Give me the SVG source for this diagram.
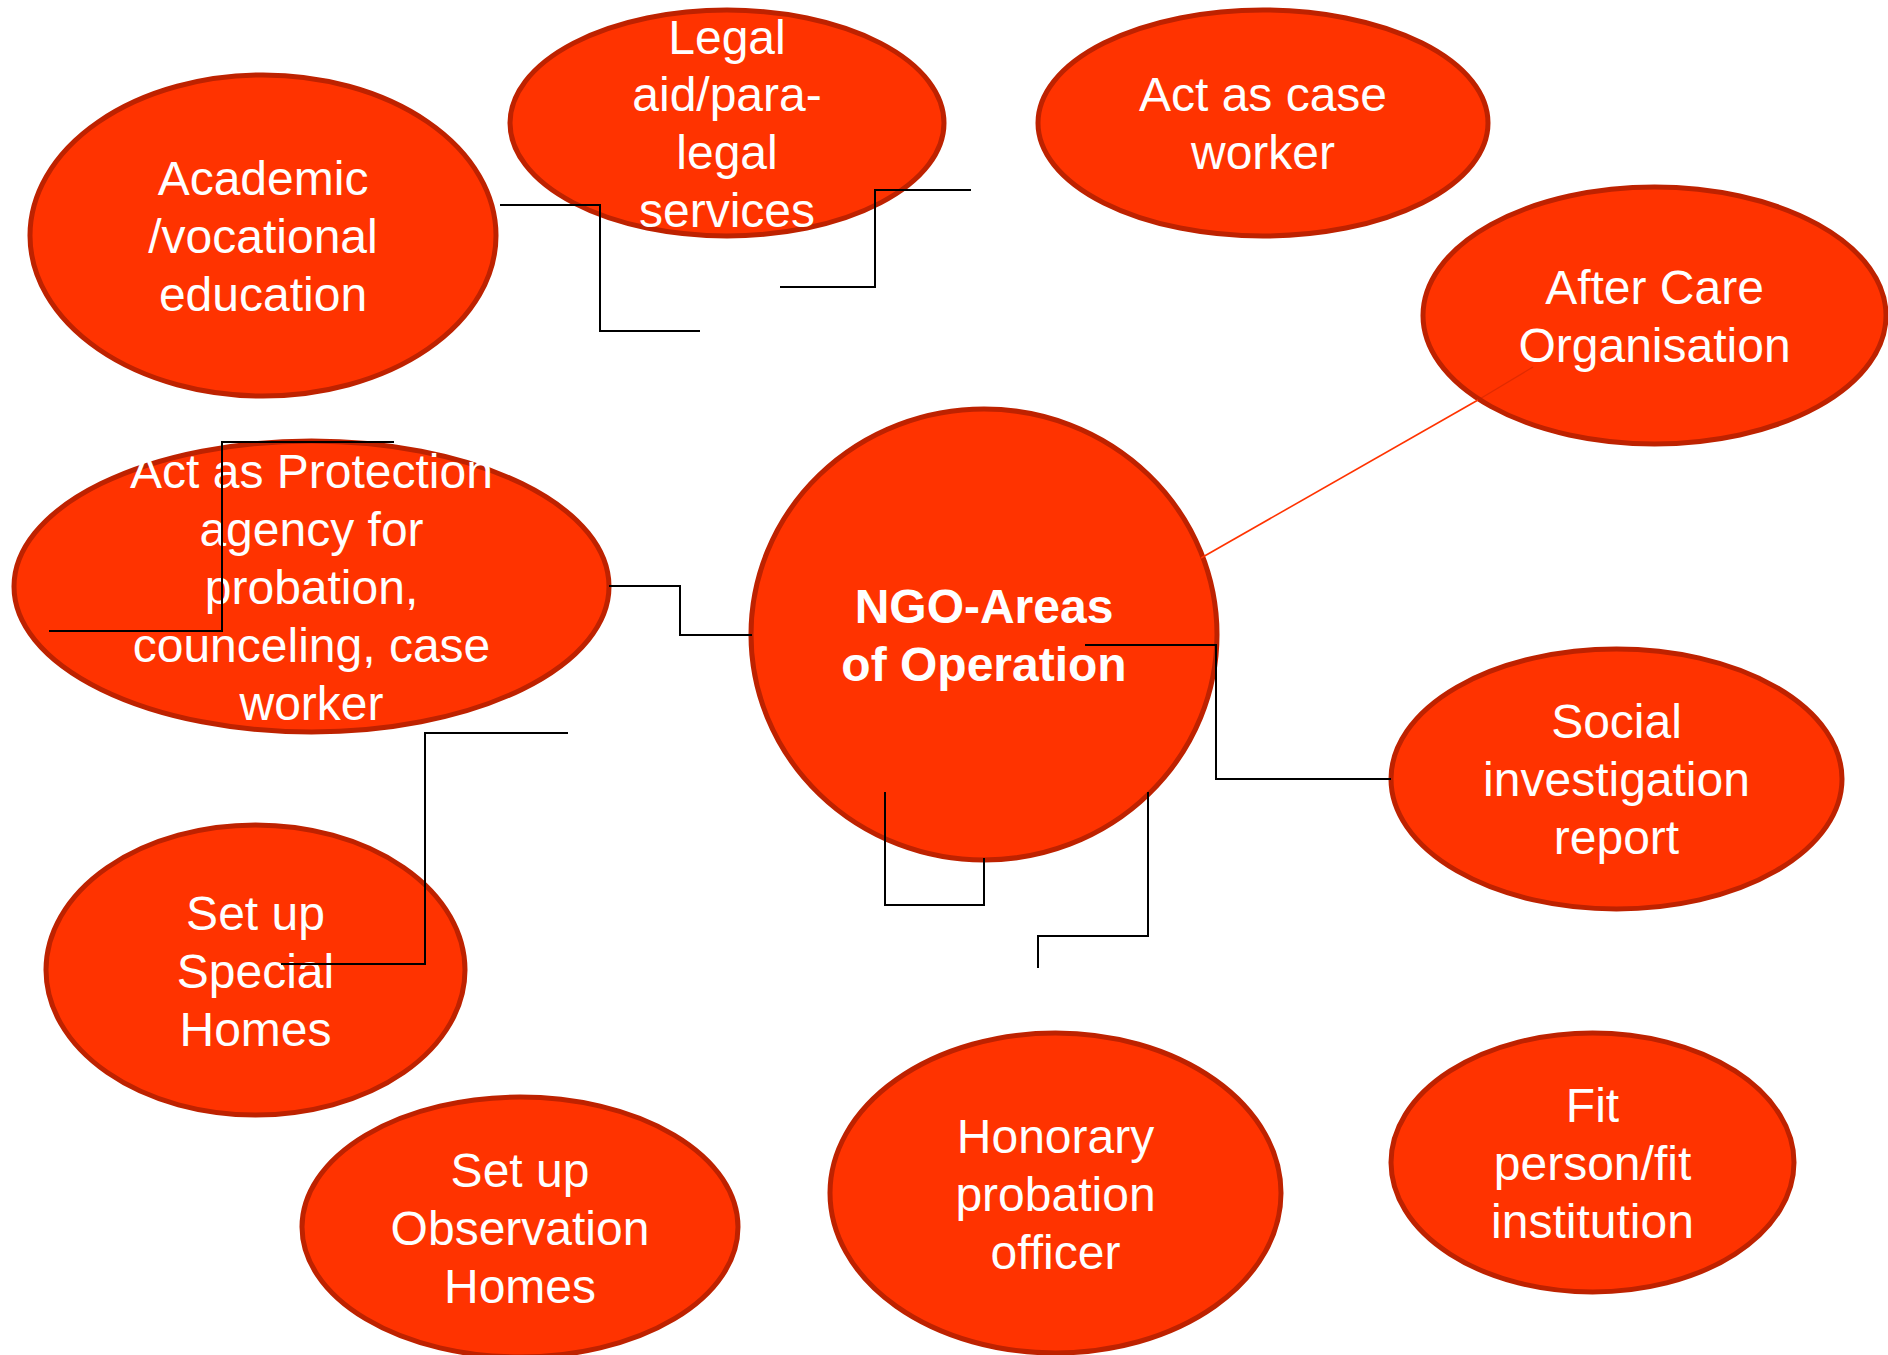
<svg xmlns="http://www.w3.org/2000/svg" width="1888" height="1355" viewBox="0 0 1888 1355">
<style>
.n{fill:#FF3300;stroke:#BE2200;stroke-width:5}
.t{font-family:"Liberation Sans",Arial,sans-serif;font-size:48px;fill:#FFFFFF;text-anchor:middle}
.b{font-weight:bold}
.c{fill:none;stroke:#000000;stroke-width:2}
</style>
<rect width="1888" height="1355" fill="#FFFFFF"/>
<g id="n-academic"><ellipse class="n" cx="263" cy="235.5" rx="233" ry="160.5"/><text class="t" x="263" y="195">Academic</text><text class="t" x="263" y="253">/vocational</text><text class="t" x="263" y="311">education</text></g>
<g id="n-legal"><ellipse class="n" cx="727" cy="123" rx="217" ry="113"/><text class="t" x="727" y="54">Legal</text><text class="t" x="727" y="111">aid/para-</text><text class="t" x="727" y="169">legal</text><text class="t" x="727" y="227">services</text></g>
<g id="n-caseworker"><ellipse class="n" cx="1263" cy="123" rx="225" ry="113"/><text class="t" x="1263" y="111">Act as case</text><text class="t" x="1263" y="169">worker</text></g>
<g id="n-aftercare"><ellipse class="n" cx="1654.5" cy="315.5" rx="231.5" ry="128.5"/><text class="t" x="1654.5" y="304">After Care</text><text class="t" x="1654.5" y="362">Organisation</text></g>
<g id="n-protection"><ellipse class="n" cx="311.5" cy="586.5" rx="297.5" ry="145.5"/><text class="t" x="311.5" y="488">Act as Protection</text><text class="t" x="311.5" y="546">agency for</text><text class="t" x="311.5" y="604">probation,</text><text class="t" x="311.5" y="662">counceling, case</text><text class="t" x="311.5" y="720">worker</text></g>
<g id="n-ngo"><ellipse class="n" cx="984" cy="634.5" rx="233" ry="225.5"/><text class="t b" x="984" y="623">NGO-Areas</text><text class="t b" x="984" y="681">of Operation</text></g>
<g id="n-social"><ellipse class="n" cx="1616.5" cy="779" rx="225.5" ry="130"/><text class="t" x="1616.5" y="738">Social</text><text class="t" x="1616.5" y="796">investigation</text><text class="t" x="1616.5" y="854">report</text></g>
<g id="n-special"><ellipse class="n" cx="255.5" cy="970" rx="209.5" ry="145"/><text class="t" x="255.5" y="930">Set up</text><text class="t" x="255.5" y="988">Special</text><text class="t" x="255.5" y="1046">Homes</text></g>
<g id="n-observation"><ellipse class="n" cx="520" cy="1227" rx="218" ry="130"/><text class="t" x="520" y="1187">Set up</text><text class="t" x="520" y="1245">Observation</text><text class="t" x="520" y="1303">Homes</text></g>
<g id="n-honorary"><ellipse class="n" cx="1055.5" cy="1193" rx="225.5" ry="160"/><text class="t" x="1055.5" y="1153">Honorary</text><text class="t" x="1055.5" y="1211">probation</text><text class="t" x="1055.5" y="1269">officer</text></g>
<g id="n-fit"><ellipse class="n" cx="1592.5" cy="1162.5" rx="201.5" ry="129.5"/><text class="t" x="1592.5" y="1122">Fit</text><text class="t" x="1592.5" y="1180">person/fit</text><text class="t" x="1592.5" y="1238">institution</text></g>
<g id="connectors">
<polyline class="c" points="500,205 600,205 600,331 700,331"/>
<polyline class="c" points="971,190 875,190 875,287 780,287"/>
<polyline class="c" points="394,442 222,442 222,631 49,631"/>
<polyline class="c" points="609,586 680,586 680,635 752,635"/>
<polyline class="c" points="568,733 425,733 425,964 281,964"/>
<polyline class="c" points="885,792 885,905 984,905 984,858"/>
<polyline class="c" points="1085,645 1216,645 1216,779 1391,779"/>
<polyline class="c" points="1148,792 1148,936 1038,936 1038,968"/>
<line x1="1201" y1="558" x2="1478" y2="400" stroke="#FF3300" stroke-width="1.6"/>
<line x1="1478" y1="400" x2="1533" y2="367" stroke="#C42400" stroke-width="1.2" opacity="0.5"/>
</g>
</svg>
